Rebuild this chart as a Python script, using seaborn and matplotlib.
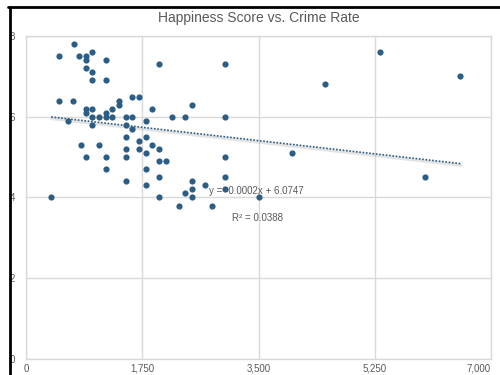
import matplotlib
matplotlib.use("Agg")
import matplotlib.pyplot as plt
import matplotlib.patheffects as pe
from matplotlib.lines import Line2D
import numpy as np
import pandas as pd
import seaborn as sns

# Crime rate (per 100k) and happiness score for each country
crime_rate = [
    500, 730, 800, 900, 900, 1000, 900, 1000, 1000, 1200, 1200, 2000, 3000,
    500, 700, 900, 900, 1000, 1000, 1100, 1200, 1200, 1300, 1300, 1400, 1400,
    1600, 1700, 1900, 1500, 1600, 2200, 2400, 2500, 3000,
    630, 1000, 1500, 1600, 1800, 1500, 1800, 1700, 830, 1100, 1900, 1500,
    1700, 2000, 1800, 900, 1200, 1500, 3000, 2000, 2100, 1200, 1800, 2000,
    3000, 1500, 1800, 2500, 2700, 3000, 2500, 2400, 2500, 380, 2000, 2300,
    2800, 3500, 4500, 5330, 6540, 4000, 6000,
]
happiness = [
    7.5, 7.8, 7.5, 7.5, 7.4, 7.6, 7.2, 7.1, 6.9, 7.4, 6.9, 7.3, 7.3,
    6.4, 6.4, 6.2, 6.1, 6.2, 6.0, 6.0, 6.1, 6.0, 6.2, 6.0, 6.4, 6.3,
    6.5, 6.5, 6.2, 6.0, 6.0, 6.0, 6.0, 6.3, 6.0,
    5.9, 5.8, 5.8, 5.7, 5.9, 5.5, 5.5, 5.4, 5.3, 5.3, 5.3, 5.2,
    5.2, 5.2, 5.1, 5.0, 5.0, 5.0, 5.0, 4.9, 4.9, 4.7, 4.7, 4.5,
    4.5, 4.4, 4.3, 4.4, 4.3, 4.2, 4.2, 4.1, 4.0, 4.0, 4.0, 3.8,
    3.8, 4.0, 6.8, 7.6, 7.0, 5.1, 4.5,
]

x_ticks = [0, 1750, 3500, 5250, 7000]
x_tick_labels = ["0", "1,750", "3,500", "5,250", "7,000"]
y_ticks = [0, 2, 4, 6, 8]
y_tick_labels = ["0", "2", "4", "6", "8"]

df = pd.DataFrame({"Crime Rate": crime_rate, "Happiness Score": happiness})

sns.set_theme(style="white")
plt.rcParams["font.family"] = ["Liberation Sans", "DejaVu Sans"]

dot_color = "#2c5d85"
text_color = "#595959"
grid_color = "#d9d9d9"

fig = plt.figure(figsize=(5, 3.75), dpi=100)
ax = fig.add_axes([0.052, 0.0427, 0.93, 0.8613])

sns.scatterplot(data=df, x="Crime Rate", y="Happiness Score", ax=ax,
                color=dot_color, s=20, linewidth=0, zorder=3)

# Soft shadow beneath the trendline
sns.regplot(data=df, x="Crime Rate", y="Happiness Score", ax=ax,
            scatter=False, ci=None, truncate=True,
            line_kws={"color": "#9a9a9a", "lw": 2.2, "zorder": 1.5,
                      "path_effects": [pe.Stroke(offset=(0.3, -1.2),
                                                 linewidth=2.2,
                                                 foreground="#b0b0b0",
                                                 alpha=0.35)]})
# Dotted linear trendline
sns.regplot(data=df, x="Crime Rate", y="Happiness Score", ax=ax,
            scatter=False, ci=None, truncate=True,
            line_kws={"color": dot_color, "lw": 1.2, "linestyle": (0, (1, 1)),
                      "zorder": 2})

ax.set_xlim(0, 7000)
ax.set_ylim(0, 8)
ax.set_xticks(x_ticks)
ax.set_xticklabels(x_tick_labels)
ax.set_yticks(y_ticks)
ax.set_yticklabels(y_tick_labels)
ax.set_xlabel("")
ax.set_ylabel("")
ax.grid(True, color=grid_color, lw=1.0)
ax.set_axisbelow(True)
for sp in ax.spines.values():
    sp.set_color(grid_color)
    sp.set_linewidth(1.0)
ax.tick_params(axis="both", length=0, labelsize=7, labelcolor=text_color)
ax.tick_params(axis="y", pad=8)
ax.tick_params(axis="x", pad=3.5)
# keep the last x label inside the figure edge
ax.get_xticklabels()[-1].set_horizontalalignment("right")

ax.set_title("Happiness Score vs. Crime Rate", fontsize=10, color=text_color,
             pad=10)

ax.text(2755, 4.15, "y = -0.0002x + 6.0747", fontsize=7, color=text_color,
        va="center", ha="left", zorder=4)
ax.text(3097, 3.49, "R² = 0.0388", fontsize=7, color=text_color,
        va="center", ha="left", zorder=4)

# Dark frame along the top and left edges
fig.add_artist(Line2D([0.016, 1.0], [0.981, 0.981], color="black", lw=2.0,
                      transform=fig.transFigure))
fig.add_artist(Line2D([0.019, 0.019], [0.0, 0.981], color="black", lw=2.0,
                      transform=fig.transFigure))

fig.savefig("out.png", dpi=100)
